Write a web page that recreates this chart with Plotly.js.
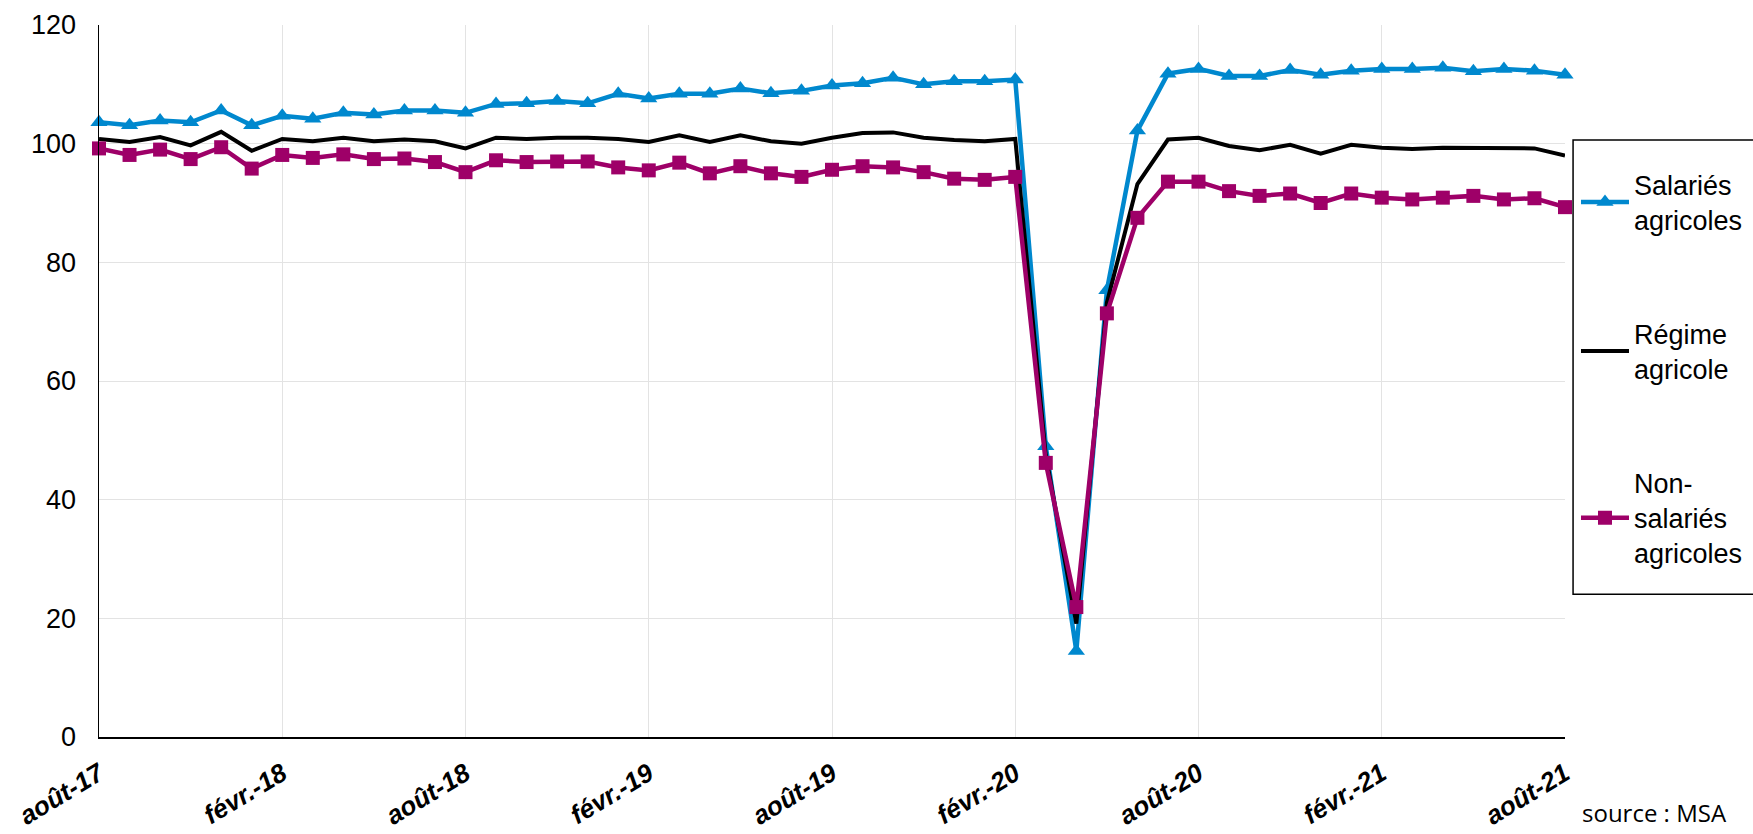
<!DOCTYPE html>
<html>
<head>
<meta charset="utf-8">
<script src="https://cdn.plot.ly/plotly-3.0.1.min.js"></script>
<style>html,body{margin:0;padding:0;background:#fff;}#chart{width:1753px;height:834px;}</style>
</head>
<body>
<div id="chart"></div>
<script>
const months = ["août-17","sept.-17","oct.-17","nov.-17","déc.-17","janv.-18","févr.-18","mars-18","avr.-18","mai-18","juin-18","juil.-18",
"août-18","sept.-18","oct.-18","nov.-18","déc.-18","janv.-19","févr.-19","mars-19","avr.-19","mai-19","juin-19","juil.-19",
"août-19","sept.-19","oct.-19","nov.-19","déc.-19","janv.-20","févr.-20","mars-20","avr.-20","mai-20","juin-20","juil.-20",
"août-20","sept.-20","oct.-20","nov.-20","déc.-20","janv.-21","févr.-21","mars-21","avr.-21","mai-21","juin-21","juil.-21","août-21"];

const salaries = [103.6,103.1,103.9,103.6,105.6,103.1,104.7,104.2,105.2,104.9,105.6,105.6,
105.2,106.7,106.8,107.2,106.8,108.4,107.6,108.4,108.4,109.3,108.5,108.9,
109.8,110.2,111.1,110.0,110.5,110.5,110.8,49.0,14.5,75.3,102.2,111.8,
112.6,111.4,111.4,112.4,111.6,112.3,112.6,112.6,112.8,112.2,112.6,112.3,111.6];

const regime = [100.8,100.3,101.1,99.7,102.0,98.8,100.8,100.4,101.0,100.4,100.7,100.4,
99.2,101.0,100.8,101.0,101.0,100.8,100.3,101.4,100.3,101.4,100.4,100.0,
101.0,101.8,101.9,101.0,100.6,100.4,100.8,47.5,19.1,73.2,93.2,100.7,
101.0,99.6,98.9,99.8,98.3,99.8,99.3,99.1,99.3,99.3,99.2,99.2,98.0];

const nonSalaries = [99.2,98.1,99.0,97.4,99.4,95.8,98.1,97.6,98.2,97.4,97.5,96.9,
95.2,97.2,96.9,97.0,97.0,96.0,95.5,96.8,95.0,96.2,95.0,94.4,
95.6,96.2,96.0,95.2,94.1,93.9,94.4,46.2,21.9,71.4,87.5,93.6,
93.6,92.0,91.2,91.6,90.0,91.6,90.9,90.6,90.9,91.2,90.6,90.8,89.3];

const tickLabels = ["août-17","févr.-18","août-18","févr.-19","août-19","févr.-20","août-20","févr.-21","août-21"];
const seriesNames = ["Salariés<br>agricoles","Régime<br>agricole","Non-<br>salariés<br>agricoles"];

const FONT = "Liberation Sans, Arial, sans-serif";

const traces = [
  {x: months, y: salaries, name: seriesNames[0], legendgroup: "a", type: "scatter", mode: "lines+markers",
   line: {color: "#0088CE", width: 4.5}, marker: {symbol: "triangle-up", size: 15, color: "#0088CE"}, cliponaxis: false},
  {x: months, y: regime, name: seriesNames[1], legendgroup: "b", type: "scatter", mode: "lines",
   line: {color: "#000000", width: 4}, cliponaxis: false},
  {x: months, y: nonSalaries, name: seriesNames[2], legendgroup: "c", type: "scatter", mode: "lines+markers",
   line: {color: "#9E0068", width: 4.5}, marker: {symbol: "square", size: 14, color: "#9E0068"}, cliponaxis: false}
];

const layout = {
  width: 1753, height: 834,
  margin: {l: 99, r: 188, t: 25, b: 97, autoexpand: false},
  paper_bgcolor: "#fff", plot_bgcolor: "#fff",
  font: {family: FONT, color: "#000"},
  showlegend: true,
  xaxis: {
    type: "category", range: [0, 48], automargin: false,
    tickmode: "array", tickvals: tickLabels, ticktext: tickLabels,
    tickangle: -31,
    tickfont: {family: FONT, size: 26, weight: "bold", style: "italic", color: "#000"},
    showgrid: true, gridcolor: "#e3e3e3", gridwidth: 1,
    showline: true, linecolor: "#000", linewidth: 1.5,
    ticks: "", ticklabelstandoff: 10, zeroline: false
  },
  yaxis: {
    range: [0, 120], dtick: 20, tick0: 0, automargin: false,
    tickfont: {family: FONT, size: 27, color: "#000"},
    showgrid: true, gridcolor: "#e3e3e3", gridwidth: 1,
    showline: true, linecolor: "#000", linewidth: 1.5,
    ticks: "", ticklabelstandoff: 16, zeroline: false
  },
  legend: {
    x: 1.0075, xanchor: "left", y: 0.81, yanchor: "top",
    font: {family: FONT, size: 27, color: "#000"},
    bgcolor: "rgba(0,0,0,0)", borderwidth: 0,
    tracegroupgap: 76, itemwidth: 48
  },
  shapes: [
    {type: "rect", xref: "paper", yref: "paper", x0: 1.0055, x1: 1.14, y0: 0.2005, y1: 0.8385,
     line: {color: "#000", width: 1.5}, fillcolor: "rgba(0,0,0,0)"}
  ],
  annotations: [
    {xref: "paper", yref: "paper", x: 1.0102, y: -0.1067, xanchor: "left", yanchor: "middle",
     text: "source : MSA", showarrow: false, font: {family: "Open Sans, sans-serif", size: 24, color: "#000"}}
  ]
};

Plotly.newPlot("chart", traces, layout, {displayModeBar: false, staticPlot: true});
</script>
</body>
</html>
